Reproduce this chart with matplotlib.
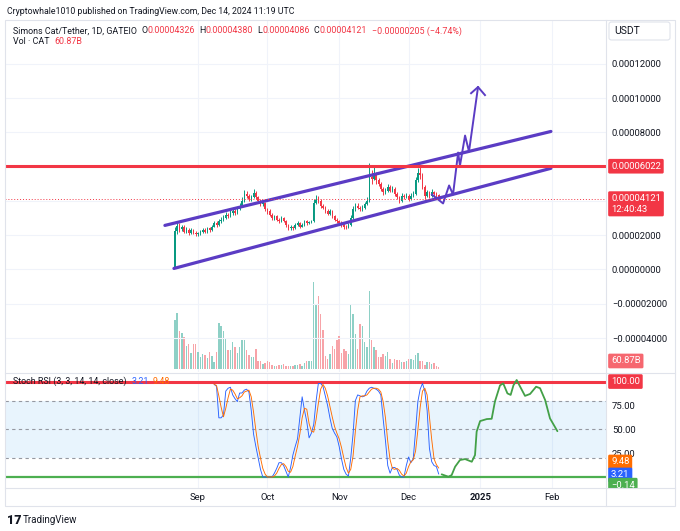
import numpy as np
import pandas as pd
import matplotlib
matplotlib.use('Agg')
import matplotlib.pyplot as plt
import matplotlib.dates as mdates
from matplotlib.lines import Line2D
from matplotlib.patches import Rectangle, FancyBboxPatch
from matplotlib.ticker import FuncFormatter

plt.rcParams['font.family'] = ['Roboto', 'DejaVu Sans']

# ---- data (prices in units of 1e-5 USDT) ----
first_open = 0.12
close_e5 = [
    2.25, 2.55, 2.35, 2.50, 2.20, 2.30, 2.10, 2.30, 2.15, 2.05,
    2.10, 2.20, 2.30, 2.20, 2.40, 2.30, 2.50, 2.70, 2.60, 2.80,
    2.90, 3.00, 3.20, 3.10, 3.30, 3.40, 3.30, 3.50, 3.70, 4.00,
    4.40, 4.30, 4.10, 4.20, 4.45, 4.20, 4.00, 3.80, 3.90, 3.50,
    3.40, 3.20, 3.00, 3.10, 2.90, 2.80, 3.00, 2.85, 2.60, 2.40,
    2.50, 2.40, 2.60, 2.70, 2.50, 2.60, 2.80, 2.70, 2.75, 2.80,
    3.90, 4.05, 4.00, 3.70, 3.60, 3.40, 3.25, 3.40, 3.10, 2.90, 2.80,
    2.70, 2.60, 2.50, 2.45, 2.60, 3.00, 3.50, 3.70, 3.60, 3.50,
    3.60, 3.80, 4.00, 5.40, 5.30, 5.60, 5.20, 5.00, 4.70, 4.50,
    4.60, 4.80, 4.60, 4.70, 4.40, 4.20, 4.00, 4.30, 4.20, 4.30,
    4.10, 4.30, 4.40, 5.20, 5.60, 5.50, 4.80, 4.30, 4.50, 4.30, 4.50, 4.40, 4.326, 4.121]
high_e5 = [
    2.45, 2.75, 2.70, 2.60, 2.60, 2.45, 2.40, 2.40, 2.35, 2.25,
    2.20, 2.30, 2.40, 2.40, 2.50, 2.50, 2.60, 2.85, 2.80, 2.95,
    3.05, 3.15, 3.35, 3.30, 3.45, 3.55, 3.50, 3.65, 3.85, 4.20,
    4.65, 4.55, 4.40, 4.35, 4.70, 4.55, 4.30, 4.10, 4.05, 3.95,
    3.60, 3.50, 3.30, 3.20, 3.15, 3.00, 3.10, 3.05, 2.90, 2.65,
    2.60, 2.55, 2.70, 2.85, 2.75, 2.70, 2.90, 2.90, 2.85, 2.90,
    4.10, 4.35, 4.30, 4.10, 3.80, 3.70, 3.50, 3.50, 3.45, 3.15, 3.00,
    2.90, 2.80, 2.70, 2.60, 2.70, 3.15, 3.70, 3.90, 3.85, 3.70,
    3.75, 3.95, 4.20, 6.20, 5.80, 6.00, 5.70, 5.35, 5.10, 4.80,
    4.75, 5.00, 4.90, 4.85, 4.80, 4.50, 4.30, 4.45, 4.40, 4.45,
    4.40, 4.45, 4.60, 5.40, 5.90, 6.06, 5.60, 4.90, 4.65, 4.60, 4.70, 4.60, 4.50, 4.38]
low_e5 = [
    0.10, 2.05, 2.20, 2.25, 2.10, 2.10, 2.00, 2.05, 2.05, 1.95,
    1.95, 2.00, 2.10, 2.10, 2.15, 2.20, 2.25, 2.45, 2.50, 2.55,
    2.70, 2.80, 2.95, 3.00, 3.05, 3.20, 3.20, 3.25, 3.45, 3.65,
    3.95, 4.15, 4.00, 4.00, 4.15, 4.10, 3.90, 3.70, 3.70, 3.40,
    3.25, 3.10, 2.90, 2.90, 2.80, 2.70, 2.75, 2.75, 2.50, 2.30,
    2.30, 2.30, 2.35, 2.55, 2.40, 2.45, 2.55, 2.60, 2.65, 2.70,
    2.75, 3.80, 3.85, 3.60, 3.50, 3.30, 3.15, 3.15, 3.00, 2.80, 2.70,
    2.60, 2.50, 2.35, 2.35, 2.40, 2.55, 2.95, 3.40, 3.50, 3.40,
    3.40, 3.55, 3.75, 3.95, 5.00, 5.20, 5.00, 4.85, 4.55, 4.35,
    4.40, 4.50, 4.50, 4.50, 4.30, 4.10, 3.90, 3.95, 4.10, 4.15,
    4.00, 4.05, 4.25, 4.35, 5.10, 5.30, 4.70, 4.10, 4.20, 4.15, 4.20, 4.25, 4.20, 4.086]
volume_b = [
    1960, 2240, 1520, 1440, 1280, 920, 1000, 640, 1000, 1000,
    680, 480, 600, 560, 440, 680, 520, 280, 680, 1840,
    1720, 1520, 1200, 760, 760, 1080, 880, 640, 880, 1160,
    1160, 760, 560, 480, 480, 800, 320, 320, 200, 240,
    320, 280, 160, 120, 120, 160, 160, 200, 120, 120,
    120, 120, 160, 160, 200, 120, 240, 320, 320, 320,
    3480, 2560, 2920, 2200, 1560, 520, 400, 600, 920, 800,
    1160, 1320, 640, 800, 720, 600, 2560, 2200, 1400, 800,
    1800, 1720, 1080, 880, 3120, 1160, 880, 760, 480, 480,
    600, 520, 680, 400, 240, 400, 360, 360, 280, 280,
    320, 400, 400, 360, 560, 640, 320, 320, 160, 280,
    280, 200, 240, 120, 60.87]

stoch_k = [
    97, 95, 62, 62, 65, 90, 93, 94, 86, 82, 79, 88, 88, 91, 92, 89, 70, 45, 32, 20, 8, 0, 0,
    0, 0, 0, 4, 9, 15, 15, 12, 6, 0, 10, 23, 32, 40, 62, 84, 70, 58, 41, 46,
    55, 79, 98, 98, 95, 85, 75, 62, 51, 46, 42,
    32, 19, 8, 3, 1, 20, 45, 80, 86, 85, 84, 85, 90, 93, 94, 93, 92, 90, 86, 61,
    38, 12, 4, 10, 10, 8, 2, 0, 0, 12,
    21, 15, 19, 48, 79, 92, 98, 90, 70, 30, 16, 12, 11, 3.21]
stoch_d = [
    97, 96, 85, 73, 63, 72, 83, 92, 91, 87, 82, 83, 85, 89, 90, 91, 84, 68, 49, 32, 20, 9, 3,
    0, 0, 0, 1, 4, 9, 13, 14, 11, 6, 5, 11, 22, 32, 45, 62, 72, 71, 56, 48,
    47, 60, 77, 92, 97, 93, 85, 74, 63, 53, 46,
    40, 31, 20, 10, 4, 8, 22, 48, 70, 84, 85, 85, 86, 89, 92, 93, 93, 92, 89, 79,
    62, 37, 18, 9, 8, 9, 7, 3, 1, 4,
    11, 16, 18, 27, 49, 73, 90, 93, 86, 63, 39, 19, 13, 9.48]

# drawings: x in days after 2024-09-01, y in 1e-5 USDT / stoch units
upper_days, upper_price = [-14.3, 152.5], [2.57, 8.05]
lower_days, lower_price = [-10.4, 152.5], [0.06, 5.90]
path_days = [101.1, 105.9, 108.5, 110.2, 112.4, 113.2, 115.4, 117.1, 121.0]
path_price = [4.37, 3.85, 4.90, 4.37, 6.82, 6.06, 7.81, 6.88, 10.64]
head_days, head_price = [118.0, 121.0, 124.0], [10.28, 10.64, 10.17]
proj_days = [105.3, 108.2, 109.6, 111.1, 113.2, 115.4, 118.3, 119.7, 120.4, 121.9,
             124.8, 126.9, 128.3, 130.5, 131.9, 133.7, 135.1, 136.3, 137.7, 139.2,
             141.3, 143.5, 146.1, 147.8, 150.0, 152.1, 155.3]
proj_vals = [2.8, 0.3, 2, 10.8, 17.8, 18.8, 16, 23, 47.5, 58.6, 60.7, 61, 79, 96, 98,
             87.6, 86, 96, 101.6, 94.6, 85, 87, 94.6, 93, 80.6, 61.4, 48]
resistance = 6.022
month_ticks = ['2024-09-01', '2024-10-01', '2024-11-01', '2024-12-01', '2025-01-01', '2025-02-01']
month_labels = ['Sep', 'Oct', 'Nov', 'Dec', '2025', 'Feb']

# ---- colours ----
UP, DOWN = '#089981', '#f23645'
VUP, VDOWN = '#8ed0c6', '#f7a3a8'
PURPLE = '#5b3cc4'
TXT = '#131722'
LINE = '#e0e3eb'
GRID = '#f0f3fa'

W, H = 680, 531
fig = plt.figure(figsize=(6.8, 5.31), dpi=100)


def fbox(x0, y0, x1, y1):
    return [x0 / W, 1 - y1 / H, (x1 - x0) / W, (y1 - y0) / H]


dates = pd.date_range('2024-08-22', '2024-12-14', freq='D')
x = mdates.date2num(dates)
base = mdates.date2num(pd.Timestamp('2024-09-01'))
mx = mdates.date2num(pd.to_datetime(month_ticks))

close = np.array(close_e5) * 1e-5
opn = np.r_[first_open * 1e-5, close[:-1]]
high = np.array(high_e5) * 1e-5
low = np.array(low_e5) * 1e-5
up = close >= opn
cols = np.where(up, UP, DOWN)

# volume pane underneath the price pane
axv = fig.add_axes(fbox(5, 20, 606, 372))
axv.bar(x, volume_b, width=0.62, color=np.where(up, VUP, VDOWN), lw=0)
axv.set_ylim(-120, 13960)
axv.set_xlim(base - 83.4, base + 176.3)
axv.set_xticks(mx)
axv.set_yticks([])
axv.grid(True, axis='x', color=GRID, lw=0.8)
axv.set_axisbelow(True)
axv.tick_params(length=0, labelleft=False, labelbottom=False)
for s in axv.spines.values():
    s.set_visible(False)

ax = fig.add_axes(fbox(5, 20, 606, 372), sharex=axv)
ax.patch.set_visible(False)
ax.vlines(x, low, high, colors=cols, lw=0.7)
ax.bar(x, np.maximum(np.abs(close - opn), 0.02e-5), bottom=np.minimum(close, opn),
       width=0.62, color=cols, lw=0)
ax.plot(base + np.array(upper_days), np.array(upper_price) * 1e-5, color=PURPLE, lw=2.3,
        solid_capstyle='round')
ax.plot(base + np.array(lower_days), np.array(lower_price) * 1e-5, color=PURPLE, lw=2.3,
        solid_capstyle='round')
ax.plot(base + np.array(path_days), np.array(path_price) * 1e-5, color=PURPLE, lw=1.4)
ax.plot(base + np.array(head_days), np.array(head_price) * 1e-5, color=PURPLE, lw=1.4)
ax.axhline(resistance * 1e-5, color=DOWN, lw=2.2)
ax.axhline(close[-1], color=DOWN, lw=0.7, ls=(0, (1, 2)))
ax.set_ylim(-5.98e-5, 14.55e-5)
ax.yaxis.tick_right()
ax.set_yticks(np.arange(-4, 13, 2) * 1e-5)


def price_fmt(v, pos):
    if abs(v - 4e-5) < 1e-9 or abs(v - 6e-5) < 1e-9:
        return ''
    return ('\u2212' if v < -1e-12 else '') + f'{abs(v):.8f}'


ax.yaxis.set_major_formatter(FuncFormatter(price_fmt))
ax.tick_params(axis='y', length=0, pad=4.3, labelsize=6.8, labelcolor=TXT)
ax.tick_params(axis='x', length=0, labelbottom=False)
ax.grid(True, axis='y', color=GRID, lw=0.8)
ax.set_axisbelow(True)
for s in ax.spines.values():
    s.set_visible(False)

# stoch rsi pane
ar = fig.add_axes(fbox(5, 374, 606, 488), sharex=axv)
rx = mdates.date2num(pd.date_range('2024-09-08', '2024-12-14', freq='D'))
ar.axhspan(20, 80, color='#2196f3', alpha=0.1, lw=0)
for lvl in (80, 50, 20):
    ar.axhline(lvl, color='#9598a1', lw=0.8, ls=(0, (3, 3)))
ar.axhline(100, color=DOWN, lw=2.2)
ar.axhline(-0.14, color='#4caf50', lw=1.6)
ar.plot(rx, stoch_k, color='#2962ff', lw=0.65)
ar.plot(rx, stoch_d, color='#ff6d00', lw=0.65)
ar.plot(base + np.array(proj_days), proj_vals, color='#43a047', lw=1.3,
        solid_joinstyle='round', solid_capstyle='round')
ar.set_ylim(-11.5, 107.9)
ar.yaxis.tick_right()
ar.set_yticks([25, 50, 75])
ar.yaxis.set_major_formatter(FuncFormatter(lambda v, p: f'{v:.2f}'))
ar.set_xticks(mx)
ar.set_xticklabels(month_labels)
ar.get_xticklabels()[4].set_fontweight('bold')
ar.tick_params(axis='y', length=0, pad=4.3, labelsize=6.8, labelcolor=TXT)
ar.tick_params(axis='x', length=0, pad=3.5, labelsize=6.8, labelcolor=TXT)
ar.grid(True, axis='x', color=GRID, lw=0.8)
ar.set_axisbelow(True)
for s in ar.spines.values():
    s.set_visible(False)


def tag(axis, yval, text, bg, dy=0, fs=6.8):
    return axis.annotate(text, xy=(1, yval), xycoords=axis.get_yaxis_transform(),
                         xytext=(5, dy), textcoords='offset pixels', ha='left', va='center',
                         fontsize=fs, color='white', annotation_clip=False,
                         bbox=dict(boxstyle='round,pad=0.3,rounding_size=0.15', fc=bg, ec='none'))


tag(ax, resistance * 1e-5, f'{resistance * 1e-5:.8f}', DOWN)
tag(ax, close[-1], f'{close[-1]:.8f}\n12:40:43', DOWN, dy=-5)
tag(axv, volume_b[-1], f'{volume_b[-1]:.2f}B', '#f6676f', dy=6.5)
tag(ar, 100, '100.00', DOWN)
tag(ar, stoch_d[-1], f'{stoch_d[-1]:.2f}', '#ff6d00', dy=6)
tag(ar, stoch_k[-1], f'{stoch_k[-1]:.2f}', '#2962ff', dy=-1)
tag(ar, -0.14, '\u22120.14', '#4caf50', dy=-8)

# white strip that hides the part of the last tag below the pane
fig.add_artist(Rectangle((607 / W, 1 - 505 / H), 66 / W, 16.5 / H, transform=fig.transFigure,
                         fc='white', ec='none', zorder=1))

# frame lines
fig.add_artist(Rectangle((5 / W, 1 - 506 / H), 670 / W, 486 / H, transform=fig.transFigure,
                         fill=False, ec=LINE, lw=0.8, zorder=2))
for (x0, y0, x1, y1) in [(606, 20, 606, 506), (5, 488, 675, 488), (5, 373, 675, 373)]:
    fig.add_artist(Line2D([x0 / W, x1 / W], [1 - y0 / H, 1 - y1 / H], color=LINE, lw=0.8, zorder=2))
fig.add_artist(FancyBboxPatch((609 / W, 1 - 40 / H), 61 / W, 18 / H, transform=fig.transFigure,
                              boxstyle='round,pad=0,rounding_size=0.004', fc='white', ec=LINE,
                              lw=0.8, zorder=2))
fig.text(614 / W, 1 - 31 / H, 'USDT', fontsize=7.5, color=TXT, va='center', zorder=3)

# header texts placed one after another
renderer = fig.canvas.get_renderer()


def seq(x_px, y_px, parts, fs=6.4):
    for s, c, gap in parts:
        x_px += gap
        t = fig.text(x_px / W, 1 - y_px / H, s, color=c, fontsize=fs, va='center', ha='left',
                     zorder=3)
        x_px += t.get_window_extent(renderer).width


seq(7, 11, [('Cryptowhale1010 published on TradingView.com, Dec 14, 2024 11:19 UTC', TXT, 0)], fs=6.3)
seq(13, 31, [('Simons Cat/Tether, 1D, GATEIO', TXT, 0), ('O', TXT, 4), ('0.00004326', DOWN, 0.5),
             ('H', TXT, 4), ('0.00004380', DOWN, 0.5), ('L', TXT, 4), ('0.00004086', DOWN, 0.5),
             ('C', TXT, 4), ('0.00004121', DOWN, 0.5), ('\u22120.00000205 (\u22124.74%)', DOWN, 5)])
seq(13, 42, [('Vol \u00b7 CAT', TXT, 0), ('60.87B', DOWN, 5)])
seq(13, 381, [('Stoch RSI (3, 3, 14, 14, close)', TXT, 0), ('3.21', '#2962ff', 5),
              ('9.48', '#ff6d00', 4)])

fig.text(7 / W, 1 - 520 / H, '17', fontsize=9, fontweight='black', color=TXT, va='center')
fig.text(23 / W, 1 - 520 / H, 'TradingView', fontsize=7, color=TXT, va='center')

fig.savefig('out.png', dpi=100)
